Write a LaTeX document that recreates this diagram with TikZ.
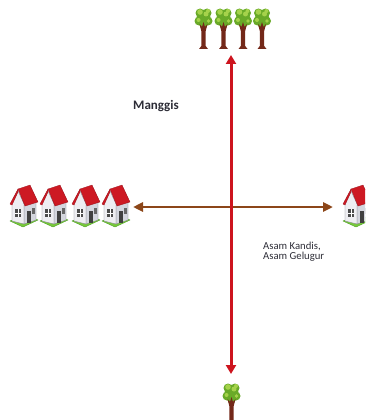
\documentclass[tikz,border=0pt]{standalone}
\usepackage{fontspec}
\setmainfont{Carlito}
\usetikzlibrary{arrows.meta}

\definecolor{vred}{RGB}{205,20,30}
\definecolor{hbrown}{RGB}{140,70,25}
\definecolor{roofred}{RGB}{205,25,35}
\definecolor{roofdark}{RGB}{150,15,25}
\definecolor{wallfront}{RGB}{238,238,242}
\definecolor{wallside}{RGB}{212,214,222}
\definecolor{wallline}{RGB}{120,120,130}
\definecolor{grass}{RGB}{120,200,60}
\definecolor{grassdark}{RGB}{80,160,40}
\definecolor{leaf}{RGB}{105,170,40}
\definecolor{leaflight}{RGB}{165,210,75}
\definecolor{trunk}{RGB}{115,40,25}
\definecolor{txt}{RGB}{45,45,55}

\tikzset{
  x=1pt, y=-1pt,
  axisred/.style={draw=vred, line width=3pt, {Triangle[width=10pt,length=9pt]}-{Triangle[width=10pt,length=9pt]}},
  axisbrown/.style={draw=hbrown, line width=2.6pt, {Triangle[width=9pt,length=10pt]}-{Triangle[width=9pt,length=10pt]}},
  label/.style={font=\fontsize{10.7}{8.5}\selectfont, text=txt, inner sep=0pt},
  % a small house with a red roof on a patch of grass; origin at the bottom centre
  house/.pic={
    \fill[grass, draw=grassdark, line width=0.4pt] (-14,-3) -- (-1,3) -- (14,-4) -- (2,-10) -- cycle;
    \fill[wallside, draw=wallline, line width=0.3pt] (0,0) -- (12,-4) -- (12,-22) -- (0,-20) -- cycle;
    \fill[wallfront, draw=wallline, line width=0.3pt] (-12,-3) -- (0,0) -- (0,-20) -- (-6,-33) -- (-12,-21) -- cycle;
    \fill[roofred, draw=roofdark, line width=0.3pt] (-6,-35) -- (6,-39) -- (14,-22) -- (1,-18) -- cycle;
    \fill[roofred, draw=roofdark, line width=0.3pt] (-6,-35) -- (-14,-20) -- (-12,-19) -- (-6,-32) -- cycle;
    \fill[black!70] (-9,-15) rectangle (-3.5,-7);
    \draw[white, line width=0.4pt] (-6.25,-15) -- (-6.25,-7) (-9,-11) -- (-3.5,-11);
    \fill[black!75] (3,-13) rectangle (6.5,-1.5);
    \fill[black!60] (8,-16) rectangle (10.5,-10);
  },
  % a tree with a green crown and a brown trunk; origin at the foot of the trunk
  tree/.pic={
    \fill[leaf] (0,-31) circle (7) (-4.5,-28) circle (4.5) (4.5,-28) circle (4.5)
                (-3.5,-36) circle (4.5) (3.5,-36) circle (4.5) (0,-24) circle (4);
    \fill[leaflight] (-3.5,-37) circle (2.8) (2.5,-35) circle (2.5) (-5,-29) circle (2) (4.5,-38) circle (2) (5,-28) circle (1.8);
    \fill[trunk] (-4.5,0) -- (-2.2,-3) -- (-2.2,-18) -- (-4,-25) -- (-1.5,-22) -- (0,-27) -- (1.5,-22) -- (4,-25) -- (2.2,-18) -- (2.2,-3) -- (4.5,0) -- cycle;
  }
}

\begin{document}
\begin{tikzpicture}
  \useasboundingbox (0,0) rectangle (365,420);
  \clip (0,0) rectangle (365,420);

  % trees at the top end of the vertical axis
  \foreach \tx in {203.5,223.5,243,262}
    \pic at (\tx,49) {tree};
  % tree at the bottom end
  \pic at (231.5,424) {tree};

  % houses on the left and on the right
  \foreach \hx in {24,54,86,116}
    \pic at (\hx,224) {house};
  \pic at (357,224) {house};

  % axes
  \coordinate (ntop) at (231,55);
  \coordinate (nbot) at (231,374);
  \coordinate (wleft) at (133,207);
  \coordinate (eright) at (333,207);
  \draw[axisbrown] (wleft) -- (eright);
  \draw[axisred] (ntop) -- (nbot);

  % labels
  \node[label, font=\fontsize{13}{15}\selectfont\bfseries, anchor=base west] (manggis) at (133,109) {Manggis};
  \node[label, align=left, anchor=north west] (asam) at (263,242) {Asam Kandis,\\Asam Gelugur};
\end{tikzpicture}
\end{document}
